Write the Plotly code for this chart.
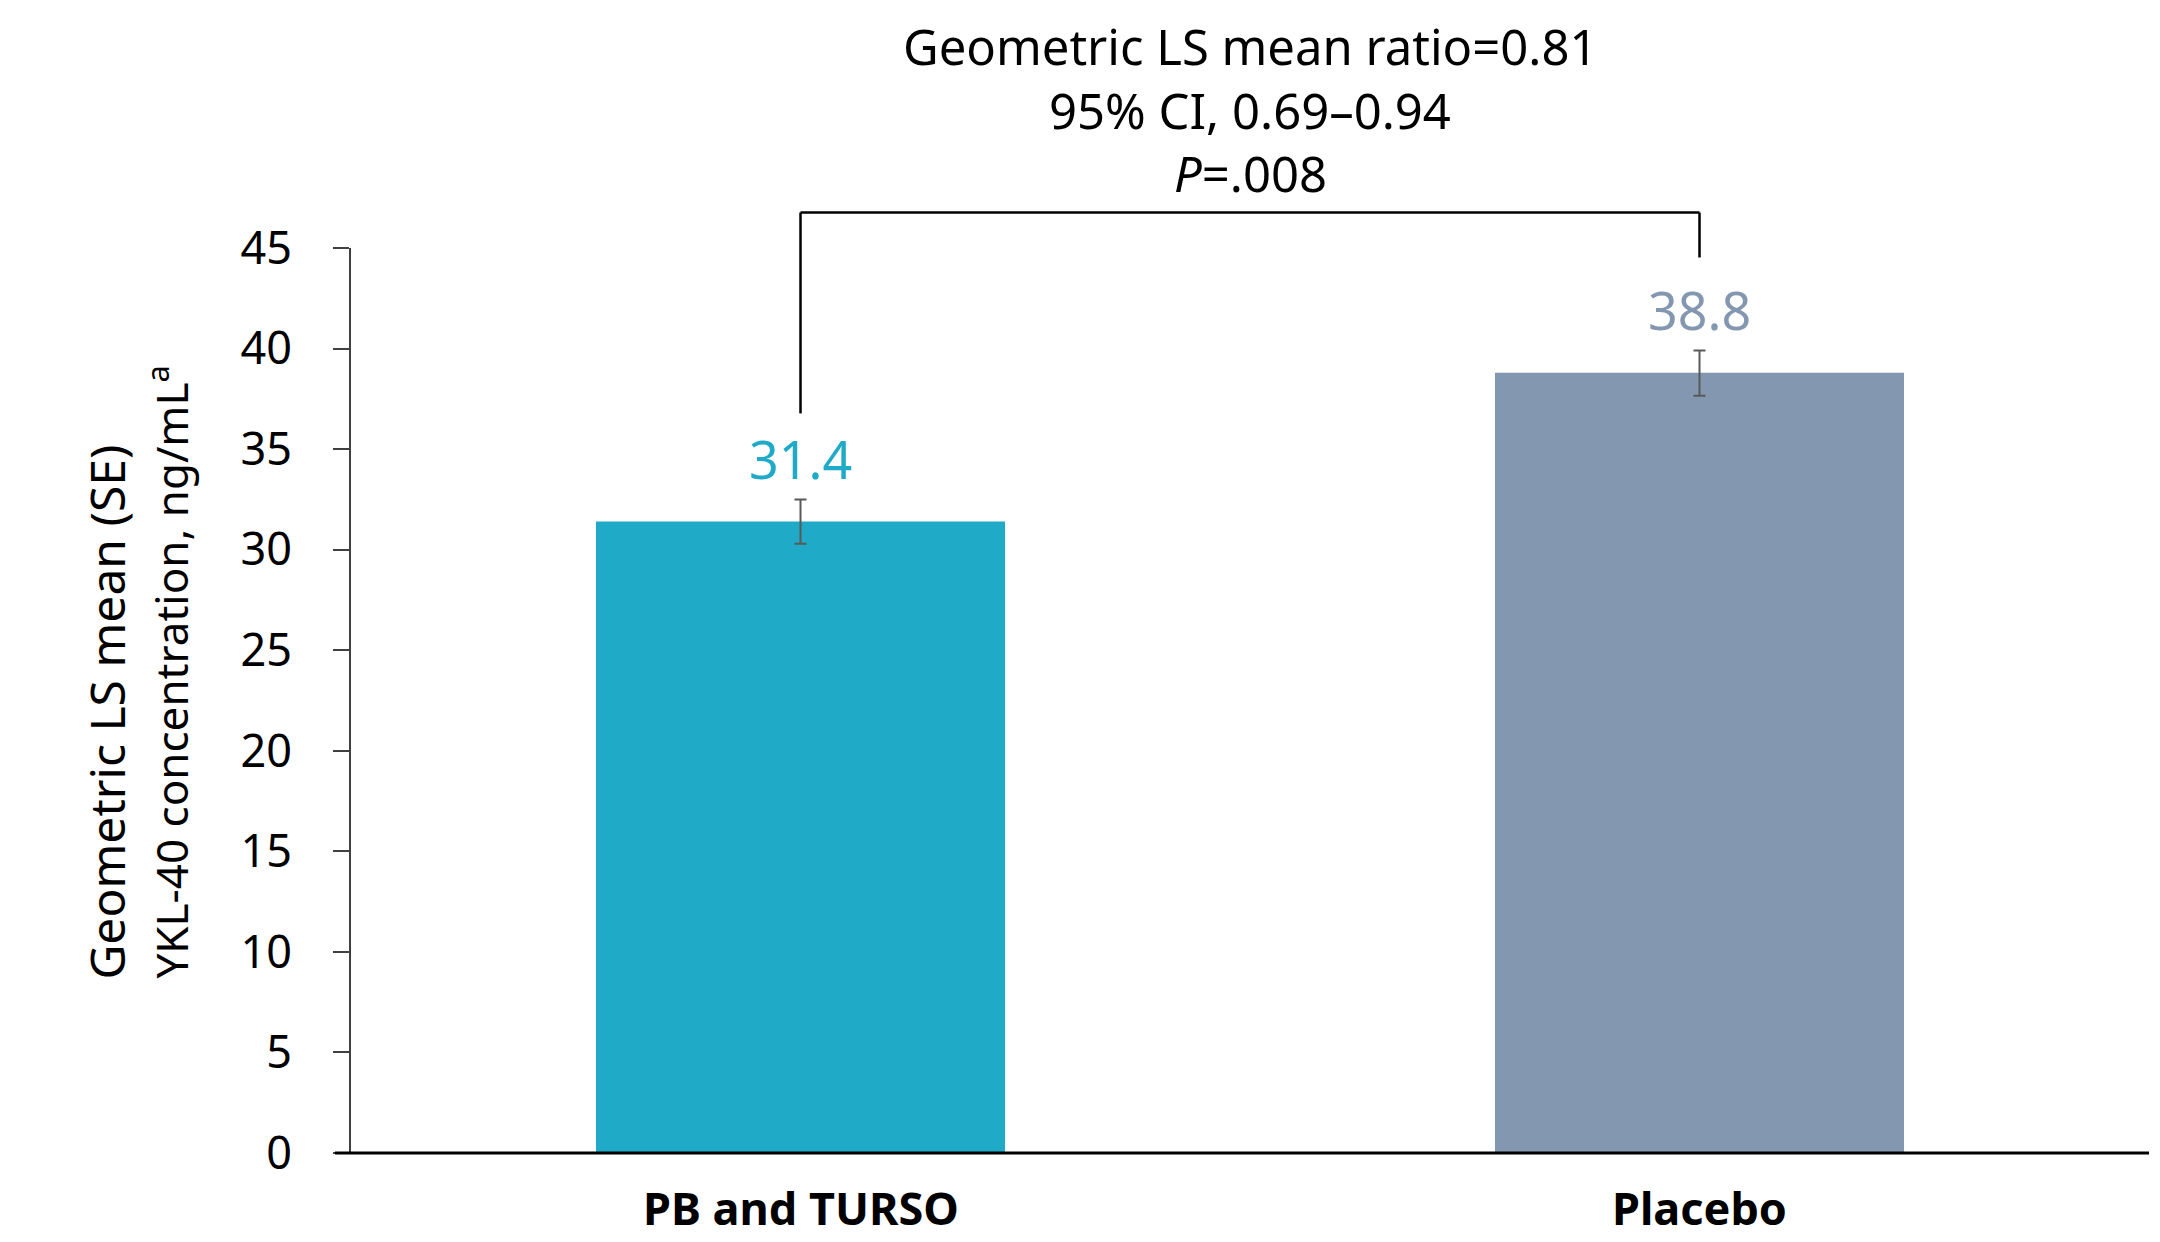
import plotly.graph_objects as go

# ---- data ----
categories = ["PB and TURSO", "Placebo"]
values = [31.4, 38.8]
err_plus = [1.1, 1.1]
err_minus = [1.1, 1.15]
value_labels = ["31.4", "38.8"]
bar_colors = ["#1FAAC7", "#8497B0"]
y_ticks = [0, 5, 10, 15, 20, 25, 30, 35, 40, 45]
stat_lines = ["Geometric LS mean ratio=0.81", "95% CI, 0.69\u20130.94", "<i>P</i>=.008"]
ytitle_lines = ["Geometric LS mean (SE)", "YKL-40 concentration, ng/mL<sup>a</sup>"]

W, H = 2160, 1242
OFF = 8  # page body margin
PL, PR, PT, PB_ = 351, 2149, 247.5, 1153  # plot area in absolute pixels
plot_w = PR - PL
plot_h = PB_ - PT

def py(p):  # absolute pixel y -> paper y
    return (PB_ - p) / plot_h

def px(p):  # absolute pixel x -> paper x
    return (p - PL) / plot_w

fig = go.Figure()
fig.add_trace(go.Bar(
    x=categories, y=values,
    marker=dict(color=bar_colors, line=dict(width=0)),
    width=0.455,
    error_y=dict(type="data", symmetric=False, array=err_plus, arrayminus=err_minus,
                 color="#595959", thickness=2, width=6),
    hoverinfo="skip",
))

TXT = "Noto Sans"
annotations = []
# value labels
for c, v, lab, col in zip(categories, values, value_labels, bar_colors):
    annotations.append(dict(x=c, y=v, xref="x", yref="y", text=lab, showarrow=False,
                            yanchor="middle", yshift=63,
                            font=dict(family=TXT, size=52, color=col)))
# category labels (drawn as annotations so they stay inside the page)
for c in categories:
    annotations.append(dict(x=c, y=py(1240), xref="x", yref="paper", text=f"<b>{c}</b>",
                            showarrow=False, yanchor="bottom", xanchor="center",
                            font=dict(family=TXT, size=45, color="#000000")))
# stats text
for line, pyy in zip(stat_lines, [45, 109, 172]):
    annotations.append(dict(x=0.5, y=py(pyy), xref="paper", yref="paper", text=line,
                            showarrow=False, yanchor="middle", xanchor="center",
                            font=dict(family=TXT, size=49, color="#000000")))
# y-axis title (two lines)
for line, pxx, fs in zip(ytitle_lines, [107, 168], [48, 44]):
    annotations.append(dict(x=px(pxx), y=py(981), xref="paper", yref="paper", text=line,
                            showarrow=False, textangle=-90, xanchor="center", yanchor="bottom",
                            font=dict(family=TXT, size=fs, color="#000000")))

shapes = []
# bracket
br_top = py(212)
shapes.append(dict(type="line", xref="x", yref="paper", x0=0, x1=0, y0=py(413), y1=br_top,
                   line=dict(color="#000000", width=2.5)))
shapes.append(dict(type="line", xref="x", yref="paper", x0=1, x1=1, y0=py(257), y1=br_top,
                   line=dict(color="#000000", width=2.5)))
shapes.append(dict(type="line", xref="x", yref="paper", x0=0, x1=1, y0=br_top, y1=br_top,
                   line=dict(color="#000000", width=2.5)))
# baseline (extends slightly left of y-axis)
shapes.append(dict(type="line", xref="paper", yref="paper", x0=px(335), x1=1, y0=0, y1=0,
                   line=dict(color="#000000", width=3)))

fig.update_layout(
    width=W - OFF, height=H - OFF,
    margin=dict(l=PL - OFF, r=W - PR, t=PT - OFF, b=H - PB_, pad=0, autoexpand=False),
    paper_bgcolor="white", plot_bgcolor="white",
    showlegend=False,
    annotations=annotations,
    shapes=shapes,
    xaxis=dict(range=[-0.5, 1.5], showline=False, showgrid=False, zeroline=False,
               automargin=False, showticklabels=False, ticks=""),
    yaxis=dict(range=[0, 45], tickvals=y_ticks, showgrid=False, zeroline=False,
               automargin=False,
               showline=True, linecolor="#404040", linewidth=2,
               ticks="outside", ticklen=16, tickwidth=2, tickcolor="#404040",
               tickfont=dict(family=TXT, size=45, color="#000000"),
               ticklabelstandoff=32),
)

fig.write_html("out.html")
